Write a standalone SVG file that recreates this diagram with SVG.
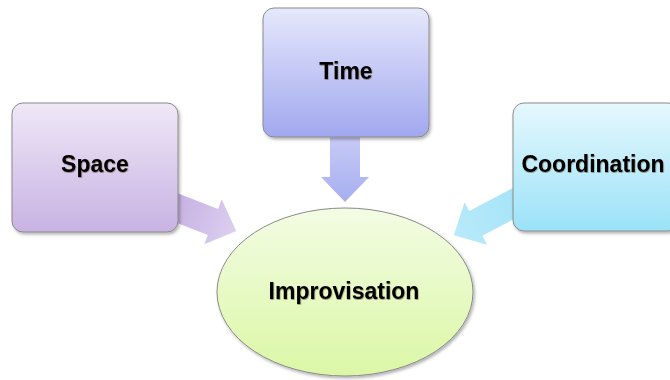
<svg xmlns="http://www.w3.org/2000/svg" width="670" height="380" viewBox="0 0 670 380">
  <defs>
    <linearGradient id="gSpace" x1="0" y1="0" x2="0" y2="1">
      <stop offset="0" stop-color="#efe8f7"/>
      <stop offset="1" stop-color="#c8b2e3"/>
    </linearGradient>
    <linearGradient id="gTime" x1="0" y1="0" x2="0" y2="1">
      <stop offset="0" stop-color="#e6e8fb"/>
      <stop offset="1" stop-color="#a1a8ef"/>
    </linearGradient>
    <linearGradient id="gCoord" x1="0" y1="0" x2="0" y2="1">
      <stop offset="0" stop-color="#e6f8fd"/>
      <stop offset="1" stop-color="#9be2f8"/>
    </linearGradient>
    <linearGradient id="gImpro" x1="0" y1="0" x2="0" y2="1">
      <stop offset="0" stop-color="#f3fce4"/>
      <stop offset="1" stop-color="#dbf7a5"/>
    </linearGradient>
    <linearGradient id="aSpace" x1="0" y1="0" x2="1" y2="0">
      <stop offset="0" stop-color="#c6b0e2"/>
      <stop offset="1" stop-color="#dccff0"/>
    </linearGradient>
    <linearGradient id="aTime" x1="0" y1="0" x2="1" y2="0">
      <stop offset="0" stop-color="#c9cdf6"/>
      <stop offset="1" stop-color="#a6aef0"/>
    </linearGradient>
    <linearGradient id="aCoord" x1="0" y1="0" x2="1" y2="0">
      <stop offset="0" stop-color="#a6e4f8"/>
      <stop offset="1" stop-color="#b8eafa"/>
    </linearGradient>
    <filter id="shadow" x="-10%" y="-10%" width="125%" height="125%">
      <feDropShadow dx="1.5" dy="2" stdDeviation="1.5" flood-color="#000" flood-opacity="0.3"/>
    </filter>
    <filter id="glow" x="-5%" y="-20%" width="110%" height="140%">
      <feDropShadow dx="0.5" dy="0.8" stdDeviation="0.7" flood-color="#3a2a10" flood-opacity="0.55"/>
    </filter>
  </defs>
  <style>
    .node { stroke: #8a8a8a; stroke-width: 1; filter: url(#shadow); }
    .label { font-family: "Liberation Sans", Arial, sans-serif; font-weight: bold; font-size: 23px; fill: #000; text-anchor: middle; filter: url(#glow); }
  </style>

  <!-- block arrows pointing into the centre ellipse -->
  <g id="connectors">
    <path transform="translate(172 206) rotate(21.3)" fill="url(#aSpace)" d="M0,-14 H44 V-24 L69,0 L44,24 V14 H0 Z"/>
    <path transform="translate(345 132) rotate(90)" fill="url(#aTime)" d="M0,-15 H45 V-24 L70,0 L45,24 V15 H0 Z"/>
    <path transform="translate(520 200) rotate(152)" fill="url(#aCoord)" d="M0,-14 H50 V-24 L75,0 L50,24 V14 H0 Z"/>
  </g>

  <g id="space">
    <rect class="node" x="12" y="103" width="166" height="129" rx="11" fill="url(#gSpace)"/>
    <text class="label" x="95" y="172">Space</text>
  </g>

  <g id="time">
    <rect class="node" x="263" y="8" width="166" height="129" rx="11" fill="url(#gTime)"/>
    <text class="label" x="346" y="79">Time</text>
  </g>

  <g id="coordination">
    <rect class="node" x="513" y="103" width="166" height="128" rx="11" fill="url(#gCoord)"/>
    <text class="label" x="593" y="172">Coordination</text>
  </g>

  <g id="improvisation">
    <ellipse class="node" cx="345" cy="292" rx="128" ry="84" fill="url(#gImpro)"/>
    <text class="label" x="344" y="299">Improvisation</text>
  </g>
</svg>
